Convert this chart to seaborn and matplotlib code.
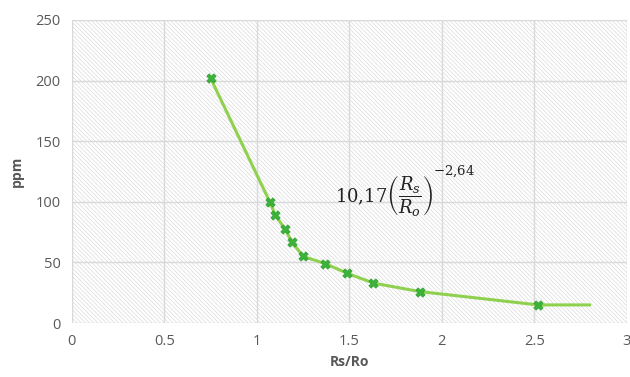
import pandas as pd
import matplotlib
matplotlib.use('Agg')
import matplotlib.pyplot as plt
import seaborn as sns
from matplotlib.patches import Rectangle

# values
rs_ro = [0.75, 1.07, 1.10, 1.15, 1.19, 1.25, 1.37, 1.49, 1.63, 1.88, 2.52]
ppm = [202, 100, 89, 78, 67, 55, 49, 41, 33, 26, 15]
# end of the fitted curve (no marker)
curve_end_x = [2.80]
curve_end_y = [15]

data = pd.DataFrame({'Rs/Ro': rs_ro, 'ppm': ppm})
curve = pd.DataFrame({'Rs/Ro': rs_ro + curve_end_x, 'ppm': ppm + curve_end_y})

sns.set_style('white')
plt.rcParams['font.family'] = ['Open Sans', 'DejaVu Sans']
plt.rcParams['hatch.color'] = '#dcdcdc'
plt.rcParams['hatch.linewidth'] = 0.5
plt.rcParams['mathtext.fontset'] = 'dejavuserif'

fig = plt.figure(figsize=(6.3, 3.77), dpi=100)
ax = fig.add_axes([0.114, 0.143, 0.881, 0.804])

# hatched background
ax.add_patch(Rectangle((0, 0), 1, 1, transform=ax.transAxes, facecolor='white',
                       edgecolor='#dcdcdc', hatch='\\' * 8, linewidth=0, zorder=0))

sns.lineplot(x='Rs/Ro', y='ppm', data=curve, color='#8fd14f', linewidth=2.2,
             sort=False, ax=ax, zorder=3)
sns.scatterplot(x='Rs/Ro', y='ppm', data=data, marker='X', s=45, color='#3cb43c',
                edgecolor='#2e9e2e', linewidth=0.5, ax=ax, zorder=4)

ax.set_xlim(0, 3)
ax.set_ylim(0, 250)
ax.set_xticks([0, 0.5, 1, 1.5, 2, 2.5, 3])
ax.set_xticklabels(['0', '0.5', '1', '1.5', '2', '2.5', '3'])
ax.set_yticks([0, 50, 100, 150, 200, 250])
ax.grid(True, color='#d9d9d9', linewidth=1)
ax.set_axisbelow(True)
for s in ax.spines.values():
    s.set_visible(False)
ax.tick_params(colors='#595959', labelsize=10.5, length=0, pad=8)

ax.set_xlabel('Rs/Ro', fontsize=10, fontweight='bold', color='#595959', labelpad=4)
ax.set_ylabel('ppm', fontsize=10, fontweight='bold', color='#595959', labelpad=8)

# fitted equation
ax.text(1.42, 105, r'$10{,}17\left(\dfrac{R_s}{R_o}\right)$',
        fontsize=13, color='#222222', va='center', ha='left')
ax.text(1.95, 125, r'$-2{,}64$', fontsize=9.5, color='#222222', va='center', ha='left')

fig.savefig('out.png', dpi=100)
